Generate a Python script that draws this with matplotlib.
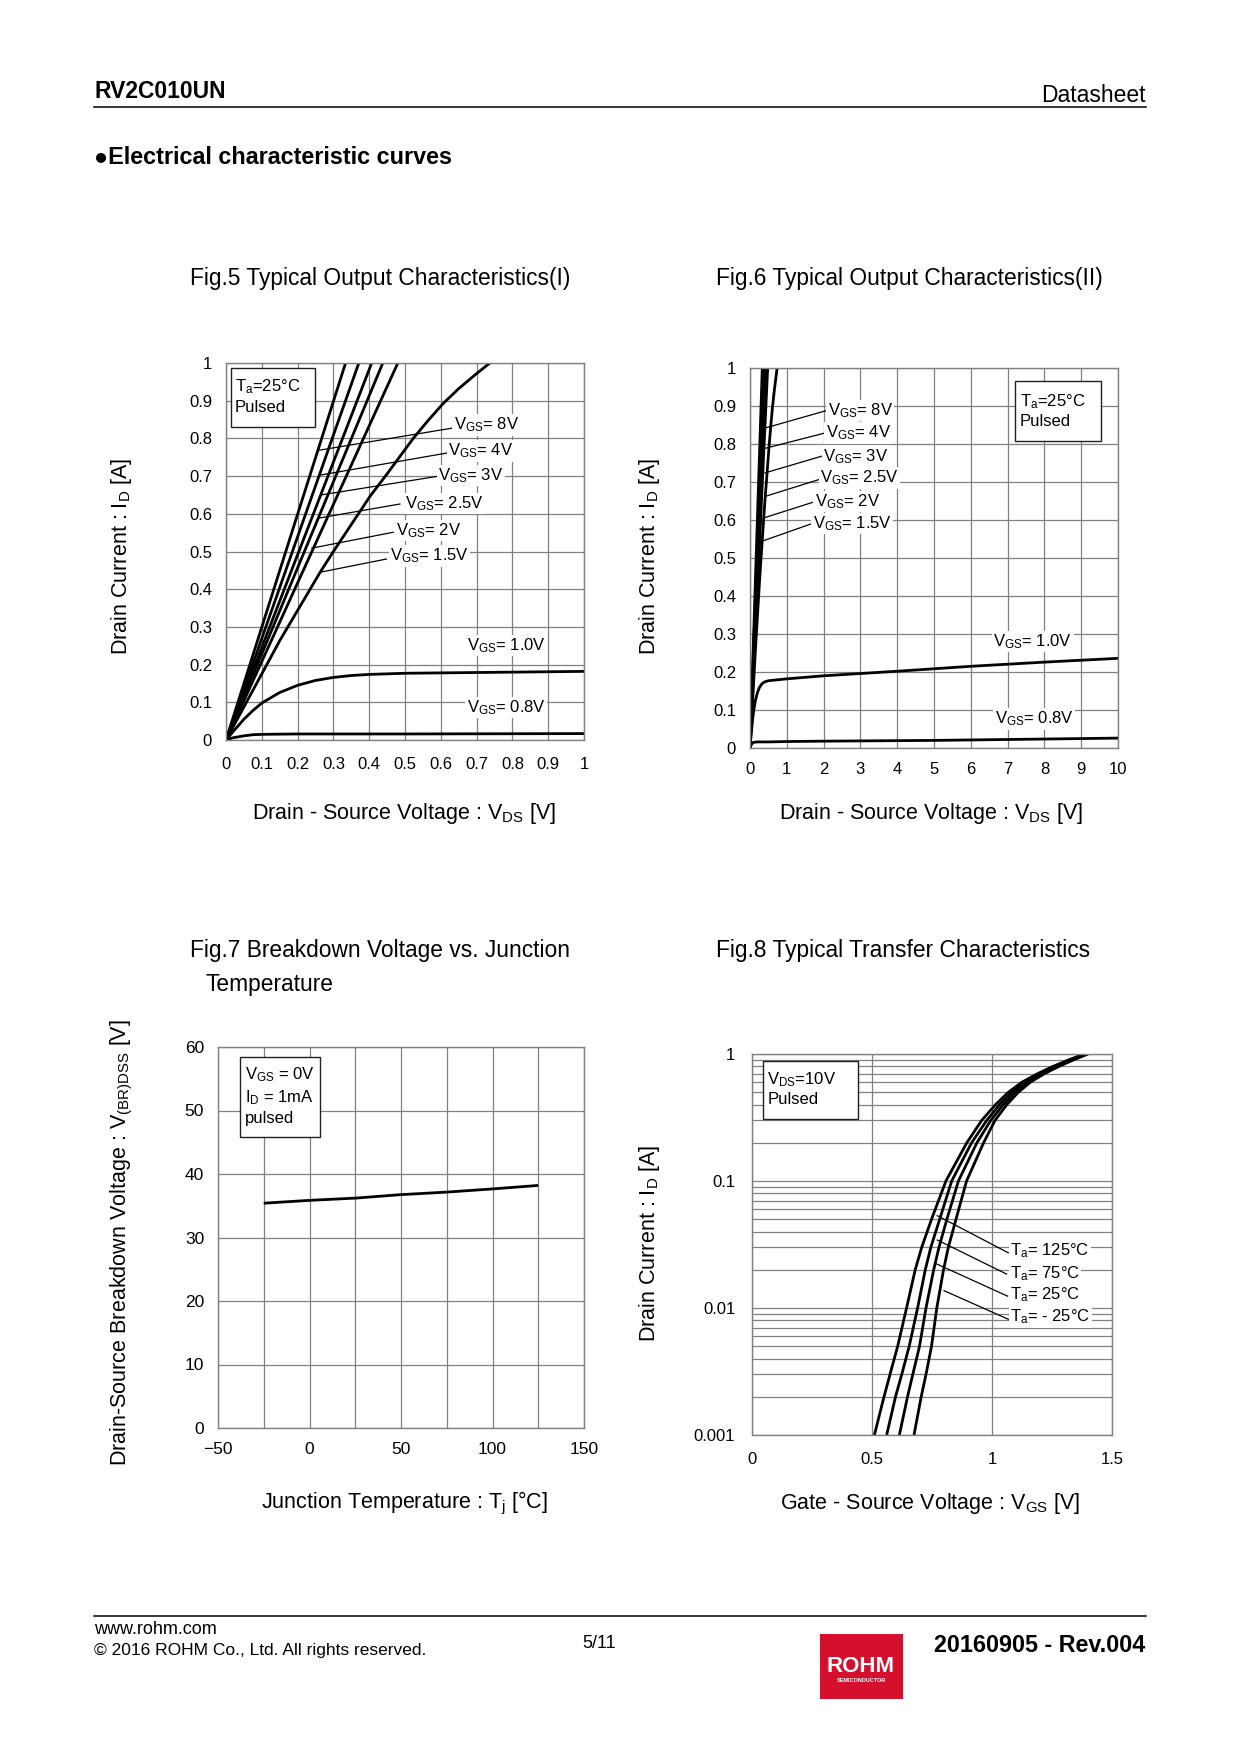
import matplotlib
matplotlib.use('Agg')
import matplotlib.pyplot as plt
from matplotlib.patches import Rectangle
from matplotlib.ticker import NullFormatter, FixedLocator

plt.rcParams['font.family'] = ['Liberation Sans', 'DejaVu Sans']
plt.rcParams['mathtext.fontset'] = 'custom'
plt.rcParams['mathtext.rm'] = 'Liberation Sans'
plt.rcParams['mathtext.it'] = 'Liberation Sans:italic'
plt.rcParams['mathtext.bf'] = 'Liberation Sans:bold'

# ---- Fig.5 / Fig.6 output characteristics (Vds [V], Id [A])
vds_8v = [0, 0.334]
id_8v = [0, 1.0]
vds_4v = [0, 0.371]
id_4v = [0, 1.0]
vds_3v = [0, 0.407]
id_3v = [0, 1.0]
vds_2v5 = [0, 0.438]
id_2v5 = [0, 1.0]
vds_2v = [0, 0.480]
id_2v = [0, 1.0]
vds_1v5 = [0, 0.151, 0.263, 0.30, 0.402, 0.45, 0.523, 0.565, 0.607, 0.65, 0.695, 0.737]
id_1v5 = [0, 0.265, 0.445, 0.50, 0.646, 0.706, 0.800, 0.848, 0.893, 0.932, 0.968, 1.0]
vds_1v0 = [0, 0.025, 0.05, 0.075, 0.1, 0.15, 0.2, 0.25, 0.3, 0.35, 0.4, 0.5, 0.6, 0.8, 1.0,
           2, 4, 6, 8, 10]
id_1v0 = [0, 0.028, 0.055, 0.078, 0.098, 0.126, 0.145, 0.158, 0.166, 0.171, 0.174, 0.177, 0.178,
          0.180, 0.182, 0.190, 0.202, 0.215, 0.226, 0.236]
vds_0v8 = [0, 0.02, 0.05, 0.075, 0.1, 0.2, 0.5, 1, 2, 5, 10]
id_0v8 = [0, 0.006, 0.011, 0.014, 0.015, 0.016, 0.016, 0.017, 0.018, 0.020, 0.026]

# ---- Fig.7 breakdown voltage
tj = [-25, 0, 25, 50, 75, 100, 125]
bvdss = [35.4, 35.85, 36.2, 36.75, 37.15, 37.65, 38.2]

# ---- Fig.8 transfer characteristics (Vgs [V] for each Id [A])
id_tr = [0.001, 0.002, 0.003, 0.005, 0.01, 0.02, 0.03, 0.05, 0.1, 0.2, 0.3, 0.4, 0.5, 0.6, 0.7,
         0.8, 0.9, 1.0]
vgs_125 = [0.510, 0.550, 0.575, 0.607, 0.644, 0.680, 0.707, 0.748, 0.808, 0.895, 0.957, 1.015,
           1.068, 1.125, 1.190, 1.255, 1.320, 1.385]
vgs_75 = [0.561, 0.598, 0.624, 0.655, 0.690, 0.722, 0.745, 0.782, 0.832, 0.915, 0.978, 1.032,
          1.082, 1.137, 1.200, 1.265, 1.327, 1.390]
vgs_25 = [0.614, 0.648, 0.670, 0.698, 0.725, 0.757, 0.779, 0.812, 0.860, 0.937, 0.995, 1.047,
          1.096, 1.148, 1.209, 1.272, 1.334, 1.395]
vgs_m25 = [0.675, 0.705, 0.725, 0.748, 0.770, 0.798, 0.818, 0.850, 0.894, 0.965, 1.0125, 1.062,
           1.110, 1.160, 1.218, 1.280, 1.340, 1.400]

W, H = 1240, 1754
fig = plt.figure(figsize=(12.4, 17.54), dpi=100)
NARROW = ['Liberation Sans Narrow', 'Liberation Sans']
GRID = '#808080'
DEG = '\u00b0C'


def fx(x):
    return x / W


def fy(y):
    return 1 - y / H


def add_ax(l, t, r, b):
    return fig.add_axes([fx(l), fy(b), (r - l) / W, (b - t) / H])


def style(ax, pad=10):
    ax.grid(True, which='major', color=GRID, lw=0.9)
    ax.tick_params(length=0, labelsize=12, pad=pad)
    for sp in ax.spines.values():
        sp.set_color(GRID)
        sp.set_linewidth(1.0)
    ax.set_axisbelow(True)


def fmt(v):
    return '{:g}'.format(v)


def curve_label(ax, x, y, s, lead=None):
    if lead is not None:
        ax.plot(lead[0], lead[1], color='black', lw=0.9, zorder=3)
    ax.text(x, y, s, fontsize=12, ha='left', va='center', zorder=4,
            bbox=dict(facecolor='white', edgecolor='none', pad=1.0))


def info_box(ax, x0, x1, y0, y1, lines, tx, tys):
    ax.add_patch(Rectangle((x0, y0), x1 - x0, y1 - y0, facecolor='white',
                           edgecolor='#202020', lw=1.0, zorder=3))
    for s, ty in zip(lines, tys):
        ax.text(tx, ty, s, fontsize=12, ha='left', va='center', zorder=4)


CURVE = dict(color='black', lw=2.0, solid_capstyle='butt')

# ---------------- header / footer
fig.text(fx(94), fy(92), 'RV2C010UN', fontsize=16.5, fontweight='bold', family=NARROW, va='center')
fig.text(fx(1146), fy(96), 'Datasheet', fontsize=16.5, family=NARROW, va='center', ha='right')
fig.add_artist(plt.Line2D([fx(94), fx(1146)], [fy(107), fy(107)], color='black', lw=1.1))
fig.text(fx(94), fy(158), '\u25cfElectrical characteristic curves', fontsize=16.8, fontweight='bold',
         family=NARROW, va='center')

fig.add_artist(plt.Line2D([fx(94), fx(1146)], [fy(1616), fy(1616)], color='black', lw=1.1))
fig.text(fx(94), fy(1630), 'www.rohm.com', fontsize=13, family=NARROW, va='center')
fig.text(fx(94), fy(1650), '\u00a9 2016 ROHM Co., Ltd. All rights reserved.', fontsize=12.5,
         family=NARROW, va='center')
fig.text(fx(599), fy(1643), '5/11', fontsize=13, family=NARROW, va='center', ha='center')
fig.text(fx(1145), fy(1645), '20160905 - Rev.004', fontsize=16.8, fontweight='bold', family=NARROW,
         va='center', ha='right')
fig.add_artist(Rectangle((fx(820), fy(1699)), 83 / W, 65 / H, transform=fig.transFigure,
                         facecolor='#d50f2e', edgecolor='none'))
fig.text(fx(861), fy(1666), 'ROHM', fontsize=16, fontweight='bold', family=NARROW, color='white',
         ha='center', va='center')
fig.text(fx(861), fy(1680), 'SEMICONDUCTOR', fontsize=4, fontweight='bold', color='white',
         ha='center', va='center')

# ---------------- titles and axis labels
fig.text(fx(190), fy(279), 'Fig.5 Typical Output Characteristics(I)', fontsize=16.4, va='center')
fig.text(fx(716), fy(279), 'Fig.6 Typical Output Characteristics(II)', fontsize=16.4, va='center')
fig.text(fx(190), fy(951), 'Fig.7 Breakdown Voltage vs. Junction', fontsize=16.4, va='center')
fig.text(fx(206), fy(985), 'Temperature', fontsize=16.4, va='center')
fig.text(fx(716), fy(951), 'Fig.8 Typical Transfer Characteristics', fontsize=16.4, va='center')

fig.text(fx(122), fy(556), r'Drain Current : I$_{\rm D}$ [A]', fontsize=15.5, rotation=90,
         ha='center', va='center')
fig.text(fx(650), fy(556), r'Drain Current : I$_{\rm D}$ [A]', fontsize=15.5, rotation=90,
         ha='center', va='center')
fig.text(fx(122), fy(1243), r'Drain-Source Breakdown Voltage : V$_{\rm (BR)DSS}$ [V]', fontsize=15.5,
         rotation=90, ha='center', va='center')
fig.text(fx(650), fy(1243), r'Drain Current : I$_{\rm D}$ [A]', fontsize=15.5, rotation=90,
         ha='center', va='center')

fig.text(fx(404), fy(814), r'Drain - Source Voltage : V$_{\rm DS}$ [V]', fontsize=15.5,
         ha='center', va='center')
fig.text(fx(931), fy(814), r'Drain - Source Voltage : V$_{\rm DS}$ [V]', fontsize=15.5,
         ha='center', va='center')
fig.text(fx(404), fy(1503), r'Junction Temperature : T$_{\rm j}$ [' + DEG + ']', fontsize=15.5,
         ha='center', va='center')
fig.text(fx(930), fy(1503), r'Gate - Source Voltage : V$_{\rm GS}$ [V]', fontsize=15.5,
         ha='center', va='center')

vgs_curves = [(vds_8v, id_8v), (vds_4v, id_4v), (vds_3v, id_3v), (vds_2v5, id_2v5),
              (vds_2v, id_2v), (vds_1v5, id_1v5), (vds_1v0, id_1v0), (vds_0v8, id_0v8)]

# ---------------- Fig.5
ax5 = add_ax(226, 363, 584, 740)
style(ax5)
ax5.tick_params(axis='x', pad=12)
for vx, iy in vgs_curves:
    ax5.plot(vx, iy, **CURVE)
ax5.set_xlim(0, 1)
ax5.set_ylim(0, 1)
t5 = [i / 10 for i in range(11)]
ax5.set_xticks(t5)
ax5.set_xticklabels([fmt(v) for v in t5])
ax5.set_yticks(t5)
ax5.set_yticklabels([fmt(v) for v in t5])
info_box(ax5, 0.014, 0.248, 0.829, 0.988, [r'T$_{\rm a}$=25' + DEG, 'Pulsed'], 0.025, [0.938, 0.881])
curve_label(ax5, 0.636, 0.836, r'V$_{\rm GS}$= 8V', ([0.256, 0.630], [0.768, 0.827]))
curve_label(ax5, 0.620, 0.767, r'V$_{\rm GS}$= 4V', ([0.259, 0.616], [0.702, 0.761]))
curve_label(ax5, 0.593, 0.701, r'V$_{\rm GS}$= 3V', ([0.265, 0.588], [0.650, 0.699]))
curve_label(ax5, 0.500, 0.628, r'V$_{\rm GS}$= 2.5V', ([0.256, 0.486], [0.588, 0.626]))
curve_label(ax5, 0.476, 0.555, r'V$_{\rm GS}$= 2V', ([0.240, 0.467], [0.509, 0.551]))
curve_label(ax5, 0.458, 0.488, r'V$_{\rm GS}$= 1.5V', ([0.263, 0.448], [0.445, 0.480]))
curve_label(ax5, 0.672, 0.250, r'V$_{\rm GS}$= 1.0V')
curve_label(ax5, 0.672, 0.086, r'V$_{\rm GS}$= 0.8V')

# ---------------- Fig.6
ax6 = add_ax(750, 368, 1118, 748)
style(ax6)
for vx, iy in vgs_curves:
    ax6.plot(vx, iy, **CURVE)
ax6.set_xlim(0, 10)
ax6.set_ylim(0, 1)
ax6.set_xticks(range(11))
ax6.set_yticks(t5)
ax6.set_yticklabels([fmt(v) for v in t5])
info_box(ax6, 7.19, 9.55, 0.807, 0.965, [r'T$_{\rm a}$=25' + DEG, 'Pulsed'], 7.33, [0.912, 0.860])
curve_label(ax6, 2.11, 0.888, r'V$_{\rm GS}$= 8V', ([0.41, 2.08], [0.842, 0.888]))
curve_label(ax6, 2.06, 0.829, r'V$_{\rm GS}$= 4V', ([0.43, 2.04], [0.789, 0.829]))
curve_label(ax6, 1.99, 0.768, r'V$_{\rm GS}$= 3V', ([0.41, 1.95], [0.724, 0.768]))
curve_label(ax6, 1.90, 0.711, r'V$_{\rm GS}$= 2.5V', ([0.41, 1.86], [0.662, 0.706]))
curve_label(ax6, 1.76, 0.649, r'V$_{\rm GS}$= 2V', ([0.36, 1.72], [0.605, 0.647]))
curve_label(ax6, 1.70, 0.590, r'V$_{\rm GS}$= 1.5V', ([0.32, 1.67], [0.544, 0.590]))
curve_label(ax6, 6.61, 0.281, r'V$_{\rm GS}$= 1.0V')
curve_label(ax6, 6.65, 0.076, r'V$_{\rm GS}$= 0.8V')

# ---------------- Fig.7
ax7 = add_ax(218, 1047, 584, 1428)
style(ax7)
ax7.tick_params(labelsize=12.5)
ax7.plot(tj, bvdss, **CURVE)
ax7.set_xlim(-50, 150)
ax7.set_ylim(0, 60)
t7 = list(range(-50, 151, 25))
ax7.set_xticks(t7)
ax7.set_xticklabels([('\u2212' + str(-v) if v < 0 else str(v)) if v % 50 == 0 else '' for v in t7])
ax7.set_yticks(range(0, 61, 10))
info_box(ax7, -38.2, 5.8, 45.8, 58.4, [r'V$_{\rm GS}$ = 0V', r'I$_{\rm D}$ = 1mA', 'pulsed'],
         -35.5, [55.6, 52.0, 48.7])

# ---------------- Fig.8
ax8 = add_ax(752, 1054, 1112, 1435)
style(ax8, pad=12)
ax8.set_yscale('log')
ax8.grid(True, which='minor', axis='y', color=GRID, lw=0.9)
for vg in (vgs_125, vgs_75, vgs_25, vgs_m25):
    ax8.plot(vg, id_tr, **CURVE)
ax8.set_xlim(0, 1.5)
ax8.set_ylim(0.001, 1)
ax8.set_xticks([0, 0.5, 1, 1.5])
ax8.set_xticklabels(['0', '0.5', '1', '1.5'])
ax8.set_yticks([0.001, 0.01, 0.1, 1])
ax8.set_yticklabels(['0.001', '0.01', '0.1', '1'])
ax8.yaxis.set_minor_locator(FixedLocator([m * 10 ** e for e in (-3, -2, -1) for m in range(2, 10)]))
ax8.yaxis.set_minor_formatter(NullFormatter())
ax8.tick_params(which='minor', length=0)
info_box(ax8, 0.044, 0.442, 0.306, 0.886, [r'V$_{\rm DS}$=10V', 'Pulsed'], 0.064, [0.624, 0.44])
curve_label(ax8, 1.075, 0.0281, r'T$_{\rm a}$= 125' + DEG, ([0.772, 1.068], [0.0533, 0.0272]))
curve_label(ax8, 1.075, 0.0185, r'T$_{\rm a}$= 75' + DEG, ([0.772, 1.061], [0.0343, 0.0185]))
curve_label(ax8, 1.075, 0.0127, r'T$_{\rm a}$= 25' + DEG, ([0.770, 1.065], [0.0222, 0.0124]))
curve_label(ax8, 1.075, 0.0085, r'T$_{\rm a}$= - 25' + DEG, ([0.800, 1.068], [0.0137, 0.00815]))

fig.savefig('out.png', dpi=100, facecolor='white')
